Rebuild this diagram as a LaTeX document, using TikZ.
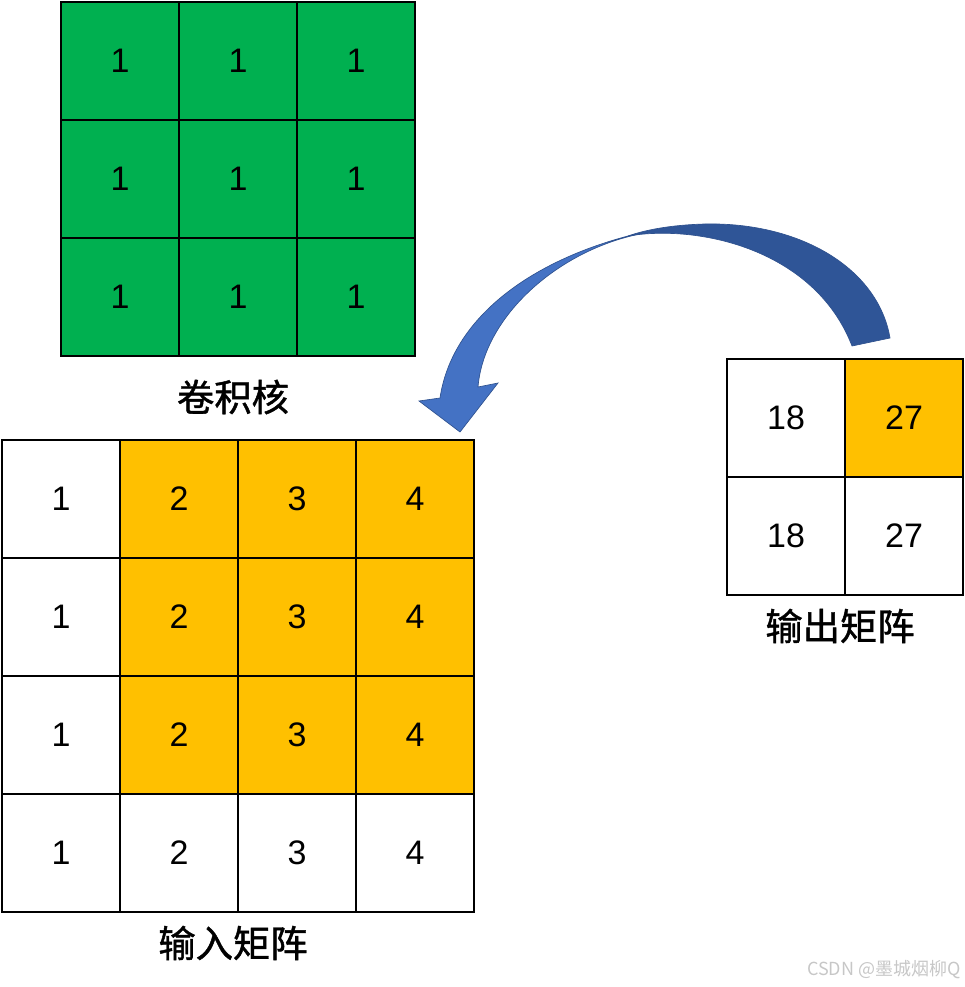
\documentclass[tikz,border=0pt]{standalone}
\usepackage{fontspec}
\setmainfont{Liberation Sans}
\newfontfamily\cjk{Noto Sans CJK SC}
\newfontfamily\cjkm[FakeBold=1.2]{Noto Sans CJK SC}
\definecolor{kgreen}{HTML}{00B050}
\definecolor{korange}{HTML}{FFC000}
\definecolor{adark}{HTML}{2F5597}
\definecolor{alight}{HTML}{4472C4}
\definecolor{aedge}{HTML}{2F528F}
\begin{document}
\begin{tikzpicture}[x=0.75pt,y=-0.75pt,
  cell/.style={draw=black,line width=1.4pt,minimum width=88.5pt,minimum height=88.5pt,inner sep=0pt,font=\fontsize{25.5}{28}\selectfont},
  gcell/.style={cell,fill=kgreen},
  ocell/.style={cell,fill=korange},
  wcell/.style={cell,fill=white},
  lab/.style={font=\cjkm\fontsize{28}{30}\selectfont,inner sep=0pt},
  wmark/.style={font=\cjk\fontsize{13.5}{15}\selectfont,text=black!22,inner sep=0pt,anchor=east}]
\useasboundingbox (0,0) rectangle (964,987);
% kernel
\foreach \r in {1,2,3}{\foreach \c in {1,2,3}{
  \node[gcell] (k\r\c) at ({61+118*(\c-0.5)},{2+118*(\r-0.5)}) {1};}}
\node[lab] (klab) at (233,397) {卷积核};
% input
\foreach \r in {1,2,3,4}{\foreach \c in {1,2,3,4}{
  \pgfmathsetmacro{\isor}{(\r<4)&&(\c>1)?1:0}
  \ifdim\isor pt>0.5pt
    \node[ocell] (i\r\c) at ({2+118*(\c-0.5)},{440+118*(\r-0.5)}) {\c};
  \else
    \node[wcell] (i\r\c) at ({2+118*(\c-0.5)},{440+118*(\r-0.5)}) {\c};
  \fi}}
\node[lab] (ilab) at (233,943) {输入矩阵};
% output
\node[wcell] (o11) at (786,418) {18};
\node[ocell] (o12) at (904,418) {27};
\node[wcell] (o21) at (786,536) {18};
\node[wcell] (o22) at (904,536) {27};
\node[lab] (olab) at (840,626) {输出矩阵};
% curved arrow
\fill[adark,draw=aedge,line width=0.5pt]
  (890,338) .. controls (878,268) and (800,222) .. (705,224)
  .. controls (670,225) and (645,230) .. (628,236)
  .. controls (700,224) and (815,250) .. (852,346) -- cycle;
\fill[alight,draw=aedge,line width=0.5pt]
  (628,236) .. controls (530,262) and (452,318) .. (440,398)
  -- (419,401) -- (460,432) -- (498,383) -- (478,387)
  .. controls (484,315) and (560,250) .. (640,234) -- cycle;
\node[wmark] (wm) at (961,970) {CSDN @墨城烟柳Q};
\end{tikzpicture}
\end{document}
